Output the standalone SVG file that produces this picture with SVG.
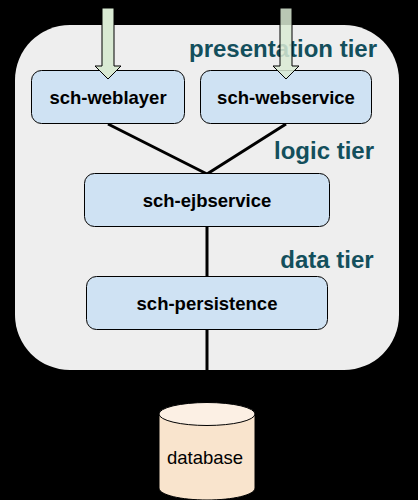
<svg xmlns="http://www.w3.org/2000/svg" width="418" height="500" viewBox="0 0 418 500">
<style>
text{font-family:"Liberation Sans",Arial,sans-serif;text-anchor:middle}
.node{fill:#cfe2f3;stroke:#000;stroke-width:1}
.lbl{font-size:18.500px;font-weight:bold;fill:#000}
.tier{font-size:24px;font-weight:bold;fill:#134f5c}
.conn{stroke:#000;stroke-width:3;fill:none}
.arrow{fill:#d9ead3;stroke:#000;stroke-width:1}
</style>
<rect width="418" height="500" fill="#000"/>
<rect id="panel" x="15" y="25" width="384" height="345" rx="55" ry="55" fill="#eeeeee"/>
<g id="tier-labels">
<text class="tier" x="283" y="57">presentation tier</text>
<text class="tier" x="324" y="159">logic tier</text>
<text class="tier" x="327" y="268">data tier</text>
</g>
<g id="connectors">
<path class="conn" d="M108 124L207 174M286 124L207 174M207 227V277M207 330V370"/>
</g>
<g id="sch-weblayer"><rect class="node" x="31.500" y="70.500" width="153" height="53" rx="10"/><text class="lbl" x="108" y="104">sch-weblayer</text></g>
<g id="sch-webservice"><rect class="node" x="200.500" y="70.500" width="171" height="53" rx="10"/><text class="lbl" x="286" y="104">sch-webservice</text></g>
<g id="sch-ejbservice"><rect class="node" x="84.500" y="173.500" width="245" height="53" rx="10"/><text class="lbl" x="207" y="207">sch-ejbservice</text></g>
<g id="sch-persistence"><rect class="node" x="86.500" y="276.500" width="241" height="53" rx="10"/><text class="lbl" x="207" y="310">sch-persistence</text></g>
<g id="arrows">
<path class="arrow" d="M102 8H114V66H121L108 79L95 66H102Z"/>
<path class="arrow" style="fill-opacity:.85" d="M280 8H292V66H299L286 79L273 66H280Z"/>
</g>
<g id="database">
<path d="M159 414V488C159 495 181 500 207 500C233 500 255 495 255 488V414Z" fill="#f9e4cd" stroke="#000"/>
<ellipse cx="207" cy="414" rx="48" ry="11.500" fill="#fcf0e4" stroke="#000"/>
<text x="205" y="464" font-size="18.500px" fill="#000">database</text>
</g>
</svg>
